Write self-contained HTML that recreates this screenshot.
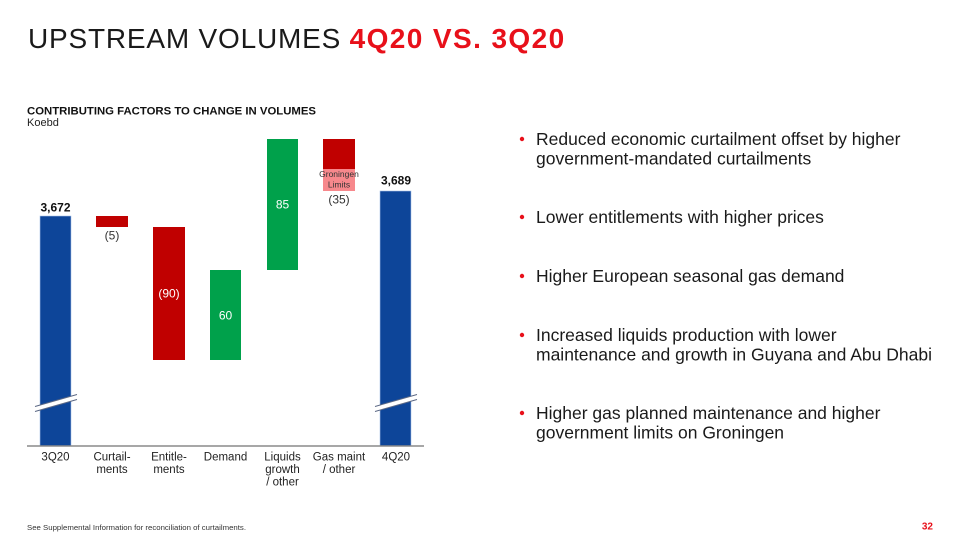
<!DOCTYPE html>
<html>
<head>
<meta charset="utf-8">
<style>
  html,body{margin:0;padding:0;background:#fff;}
  svg{display:block;}
  text{font-family:"Liberation Sans",sans-serif;}
</style>
</head>
<body>
<svg width="960" height="540" viewBox="0 0 960 540" xmlns="http://www.w3.org/2000/svg">
  <rect width="960" height="540" fill="#fff"/>

  <!-- Title -->
  <text x="28" y="48" font-size="28" fill="#1a1a1a" letter-spacing="0.8">UPSTREAM VOLUMES <tspan font-weight="bold" fill="#e8101a" letter-spacing="1.4">4Q20 VS. 3Q20</tspan></text>

  <!-- Subtitle -->
  <text x="27" y="114.5" font-size="11" font-weight="bold" fill="#111" textLength="289" lengthAdjust="spacingAndGlyphs">CONTRIBUTING FACTORS TO CHANGE IN VOLUMES</text>
  <text x="27" y="126" font-size="11" fill="#222">Koebd</text>

  <!-- Bars -->
  <!-- 3Q20 -->
  <rect x="40" y="216" width="31" height="230" fill="#0d4599" stroke="#a9c3ea" stroke-width="0.6"/>
  <!-- Curtailments -->
  <rect x="96" y="216" width="32" height="11" fill="#c00000"/>
  <!-- Entitlements -->
  <rect x="153" y="227" width="32" height="133" fill="#c00000"/>
  <!-- Demand -->
  <rect x="210" y="270" width="31" height="90" fill="#00a14b"/>
  <!-- Liquids -->
  <rect x="267" y="139" width="31" height="131" fill="#00a14b"/>
  <!-- Gas maint -->
  <rect x="323" y="139" width="32" height="30" fill="#c00000"/>
  <rect x="323" y="169" width="32" height="22" fill="#f7888c"/>
  <!-- 4Q20 -->
  <rect x="380" y="191" width="31" height="255" fill="#0d4599" stroke="#a9c3ea" stroke-width="0.6"/>

  <!-- Break marks -->
  <polygon points="35,406.5 77,394.5 77,399.5 35,411.5" fill="#fff"/>
  <line x1="35" y1="406.5" x2="77" y2="394.5" stroke="#5a6784" stroke-width="1"/>
  <line x1="35" y1="411.5" x2="77" y2="399.5" stroke="#5a6784" stroke-width="1"/>
  <polygon points="375,406.5 417,394.5 417,399.5 375,411.5" fill="#fff"/>
  <line x1="375" y1="406.5" x2="417" y2="394.5" stroke="#5a6784" stroke-width="1"/>
  <line x1="375" y1="411.5" x2="417" y2="399.5" stroke="#5a6784" stroke-width="1"/>

  <!-- Axis -->
  <line x1="27" y1="446" x2="424" y2="446" stroke="#8a8a8a" stroke-width="1.5"/>

  <!-- Value labels -->
  <text x="55.5" y="211.5" font-size="12" font-weight="bold" fill="#111" text-anchor="middle">3,672</text>
  <text x="112" y="239.5" font-size="12" fill="#333" text-anchor="middle">(5)</text>
  <text x="169" y="297.5" font-size="12" fill="#fff" text-anchor="middle">(90)</text>
  <text x="225.5" y="319.5" font-size="12" fill="#fff" text-anchor="middle">60</text>
  <text x="282.5" y="208.5" font-size="12" fill="#fff" text-anchor="middle">85</text>
  <text x="339" y="177" font-size="8.5" fill="#333" text-anchor="middle">Groningen</text>
  <text x="339" y="187.5" font-size="8.5" fill="#333" text-anchor="middle">Limits</text>
  <text x="339" y="203.5" font-size="12" fill="#333" text-anchor="middle">(35)</text>
  <text x="396" y="184.5" font-size="12" font-weight="bold" fill="#111" text-anchor="middle">3,689</text>

  <!-- Category labels -->
  <g font-size="11.5" fill="#222" text-anchor="middle">
    <text x="55.5" y="460.5">3Q20</text>
    <text x="112" y="460.5">Curtail-</text>
    <text x="112" y="473">ments</text>
    <text x="169" y="460.5">Entitle-</text>
    <text x="169" y="473">ments</text>
    <text x="225.5" y="460.5">Demand</text>
    <text x="282.5" y="460.5">Liquids</text>
    <text x="282.5" y="473">growth</text>
    <text x="282.5" y="485.5">/ other</text>
    <text x="339" y="460.5">Gas maint</text>
    <text x="339" y="473">/ other</text>
    <text x="396" y="460.5">4Q20</text>
  </g>

  <!-- Bullets -->
  <g fill="#e8101a">
    <circle cx="522" cy="139" r="2.2"/>
    <circle cx="522" cy="217" r="2.2"/>
    <circle cx="522" cy="276" r="2.2"/>
    <circle cx="522" cy="335" r="2.2"/>
    <circle cx="522" cy="413" r="2.2"/>
  </g>
  <g font-size="17.5" fill="#1a1a1a">
    <text x="536" y="145">Reduced economic curtailment offset by higher</text>
    <text x="536" y="164.5">government-mandated curtailments</text>
    <text x="536" y="223">Lower entitlements with higher prices</text>
    <text x="536" y="282">Higher European seasonal gas demand</text>
    <text x="536" y="341">Increased liquids production with lower</text>
    <text x="536" y="360.5">maintenance and growth in Guyana and Abu Dhabi</text>
    <text x="536" y="419">Higher gas planned maintenance and higher</text>
    <text x="536" y="438.5">government limits on Groningen</text>
  </g>

  <!-- Footnote -->
  <text x="27" y="530" font-size="7.5" fill="#333" textLength="219" lengthAdjust="spacingAndGlyphs">See Supplemental Information for reconciliation of curtailments.</text>
  <text x="933" y="529.5" font-size="10" font-weight="bold" fill="#e8101a" text-anchor="end">32</text>
</svg>
</body>
</html>
